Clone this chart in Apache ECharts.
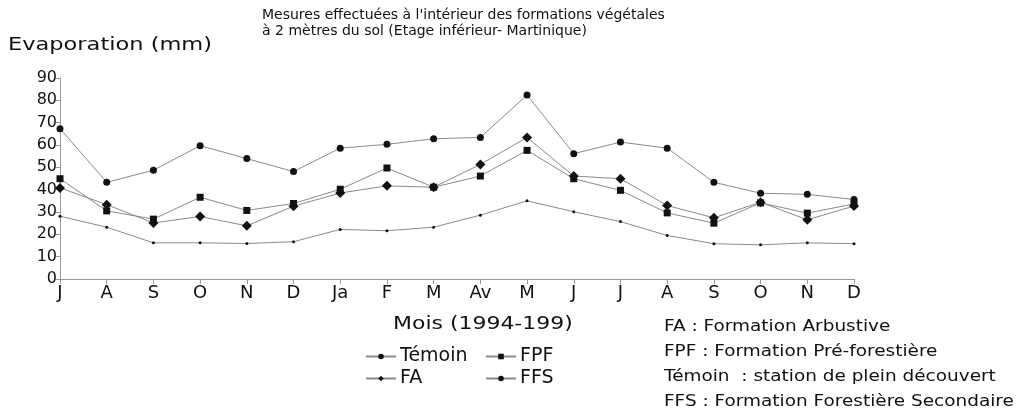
<!DOCTYPE html>
<html>
<head>
<meta charset="utf-8">
<script src="https://cdn.jsdelivr.net/npm/echarts@6/dist/echarts.min.js"></script>
<style>
  html, body { margin: 0; padding: 0; background: #fff; }
  #chart { width: 1022px; height: 417px; }
</style>
</head>
<body>
<div id="chart"></div>
<script>
// mois de juillet 1994 a decembre 1995
const months = ['J', 'A', 'S', 'O', 'N', 'D', 'Ja', 'F', 'M', 'Av', 'M', 'J', 'J', 'A', 'S', 'O', 'N', 'D']

const temoin = [67.3, 43.3, 48.7, 59.7, 53.9, 48.1, 58.6, 60.3, 62.8, 63.4, 82.4, 56.1, 61.3, 58.6, 43.3, 38.4, 37.9, 35.6]
const fpf = [44.9, 30.5, 26.8, 36.6, 30.7, 33.8, 40.2, 49.7, 41.1, 46.1, 57.6, 44.9, 39.7, 29.6, 25.0, 34.1, 29.5, 33.6]
const fa = [40.8, 33.3, 25.1, 28.0, 23.8, 32.6, 38.5, 41.7, 41.1, 51.3, 63.4, 46.1, 44.9, 32.9, 27.4, 34.4, 26.5, 32.7]
const ffs = [28.1, 23.2, 16.2, 16.2, 15.9, 16.7, 22.2, 21.6, 23.2, 28.6, 35.0, 30.1, 25.7, 19.5, 15.8, 15.3, 16.2, 15.8]

const notes = [
  'FA : Formation Arbustive',
  'FPF : Formation Pré-forestière',
  'Témoin  : station de plein découvert',
  'FFS : Formation Forestière Secondaire'
]

const font = 'DejaVu Sans'
const lineColor = '#8a8a8a'

function makeSeries(name, data, symbol, size) {
  return {
    name: name,
    type: 'line',
    data: data,
    symbol: symbol,
    symbolSize: size,
    lineStyle: { color: lineColor, width: 1 },
    itemStyle: { color: '#111' },
    emphasis: { disabled: true },
    animation: false
  }
}

const chart = echarts.init(document.getElementById('chart'))

const legendBase = {
  orient: 'vertical',
  itemWidth: 30,
  itemHeight: 7,
  itemGap: 3,
  textStyle: { fontFamily: font, fontSize: 19, color: '#111', padding: [0, 0, 0, -1] }
}

// textes annexes, un peu etires en largeur comme sur l'original
const option = {
  backgroundColor: '#fff',
  grid: { left: 60, right: 168, top: 78, bottom: 138 },
  xAxis: {
    type: 'category',
    data: months,
    boundaryGap: false,
    axisLine: { lineStyle: { color: '#999', width: 1 } },
    axisTick: { show: true, length: 5, lineStyle: { color: '#999' } },
    axisLabel: { fontFamily: font, fontSize: 18, color: '#111', margin: 5, interval: 0 },
    splitLine: { show: false }
  },
  yAxis: {
    type: 'value',
    min: 0,
    max: 90,
    interval: 10,
    axisLine: { show: true, lineStyle: { color: '#999', width: 1 } },
    axisTick: { show: true, length: 4, lineStyle: { color: '#999' } },
    axisLabel: { fontFamily: font, fontSize: 16, color: '#111', margin: 3 },
    splitLine: { show: false }
  },
  legend: [
    Object.assign({}, legendBase, { left: 360, top: 342, data: ['Témoin', 'FA'] }),
    Object.assign({}, legendBase, { left: 480, top: 342, data: ['FPF', 'FFS'] })
  ],
  graphic: [
    {
      type: 'text', left: 262, top: 7,
      style: {
        text: "Mesures effectuées à l'intérieur des formations végétales\nà 2 mètres du sol (Etage inférieur- Martinique)",
        font: '14px "DejaVu Sans"', fill: '#111', lineHeight: 16
      }
    },
    {
      type: 'text', x: 8, y: 36, scaleX: 1.25,
      style: { text: 'Evaporation (mm)', font: '18px "DejaVu Sans"', fill: '#111' }
    },
    {
      type: 'text', x: 393, y: 315, scaleX: 1.22,
      style: { text: 'Mois (1994-199)', font: '18px "DejaVu Sans"', fill: '#111' }
    }
  ].concat(notes.map((t, i) => ({
    type: 'text', x: 664, y: 320 + i * 25, scaleX: 1.23,
    style: { text: t, font: '15px "DejaVu Sans"', fill: '#111' }
  }))),
  series: [
    makeSeries('Témoin', temoin, 'circle', 7),
    makeSeries('FPF', fpf, 'rect', 7),
    makeSeries('FA', fa, 'diamond', 10),
    makeSeries('FFS', ffs, 'circle', 3)
  ]
}

chart.setOption(option)
</script>
</body>
</html>
